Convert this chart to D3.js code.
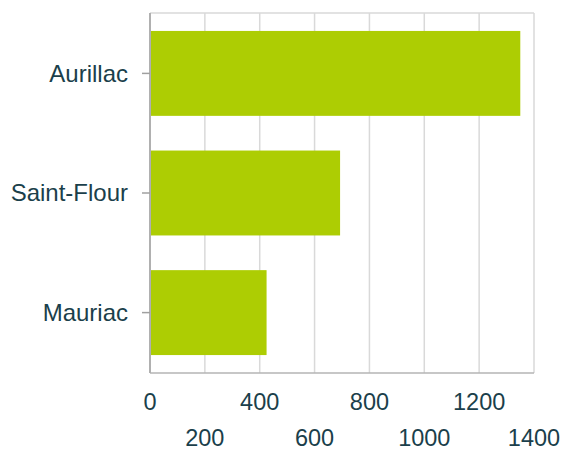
<!DOCTYPE html>
<html>
<head>
<meta charset="utf-8">
<script src="https://cdn.jsdelivr.net/npm/d3@7"></script>
<style>
  body { margin: 0; background: #fff; }
  svg text { font-family: "Liberation Sans", Arial, sans-serif; fill: #1b3f4b; }
</style>
</head>
<body>
<div id="chart"></div>
<script>
// data
var towns = ["Aurillac", "Saint-Flour", "Mauriac"];
var counts = [1350, 693, 425];
var tickValues = [0, 200, 400, 600, 800, 1000, 1200, 1400];

var data = towns.map(function(t, i) { return {name: t, value: counts[i]}; });

var margin = {top: 13, right: 27, bottom: 77, left: 150},
    width = 561 - margin.left - margin.right,
    height = 450 - margin.top - margin.bottom;

var svg = d3.select("#chart").append("svg")
    .attr("width", 561)
    .attr("height", 450)
  .append("g")
    .attr("transform", "translate(" + margin.left + "," + margin.top + ")");

var x = d3.scaleLinear().domain([0, 1400]).range([0, width]);
var y = d3.scaleBand().domain(towns).range([0, height]).paddingInner(0.29).paddingOuter(0.15);

// grid
svg.selectAll(".grid")
    .data(tickValues.slice(1))
  .enter().append("line")
    .attr("x1", function(d) { return x(d); })
    .attr("x2", function(d) { return x(d); })
    .attr("y1", 0)
    .attr("y2", height)
    .attr("stroke", "#d9d9d9")
    .attr("stroke-width", 1.5);

svg.append("line")
    .attr("x1", 0).attr("x2", width)
    .attr("y1", 0).attr("y2", 0)
    .attr("stroke", "#d9d9d9")
    .attr("stroke-width", 1.5);

// bars
svg.selectAll(".bar")
    .data(data)
  .enter().append("rect")
    .attr("x", 0)
    .attr("y", function(d) { return y(d.name); })
    .attr("width", function(d) { return x(d.value); })
    .attr("height", y.bandwidth())
    .attr("fill", "#adcd03");

// bottom axis line
svg.append("line")
    .attr("x1", 0).attr("x2", width)
    .attr("y1", height).attr("y2", height)
    .attr("stroke", "#b5b5b5")
    .attr("stroke-width", 1.5);

// left axis
svg.append("line")
    .attr("x1", 0).attr("x2", 0)
    .attr("y1", 0).attr("y2", height)
    .attr("stroke", "#b0b0b0")
    .attr("stroke-width", 2);

svg.selectAll(".ytick")
    .data(towns)
  .enter().append("line")
    .attr("x1", -8).attr("x2", 0)
    .attr("y1", function(d) { return y(d) + y.bandwidth() / 2; })
    .attr("y2", function(d) { return y(d) + y.bandwidth() / 2; })
    .attr("stroke", "#a0a0a0")
    .attr("stroke-width", 1.5);

svg.selectAll(".ylabel")
    .data(towns)
  .enter().append("text")
    .attr("x", -22)
    .attr("y", function(d) { return y(d) + y.bandwidth() / 2; })
    .attr("dy", "0.35em")
    .style("text-anchor", "end")
    .style("font-size", "24px")
    .text(function(d) { return d; });

// x labels, staggered on two rows
svg.selectAll(".xlabel")
    .data(tickValues)
  .enter().append("text")
    .attr("x", function(d) { return x(d); })
    .attr("y", function(d, i) { return i % 2 == 0 ? height + 37 : height + 73; })
    .style("text-anchor", "middle")
    .style("font-size", "23.5px")
    .text(function(d) { return d; });
</script>
</body>
</html>
